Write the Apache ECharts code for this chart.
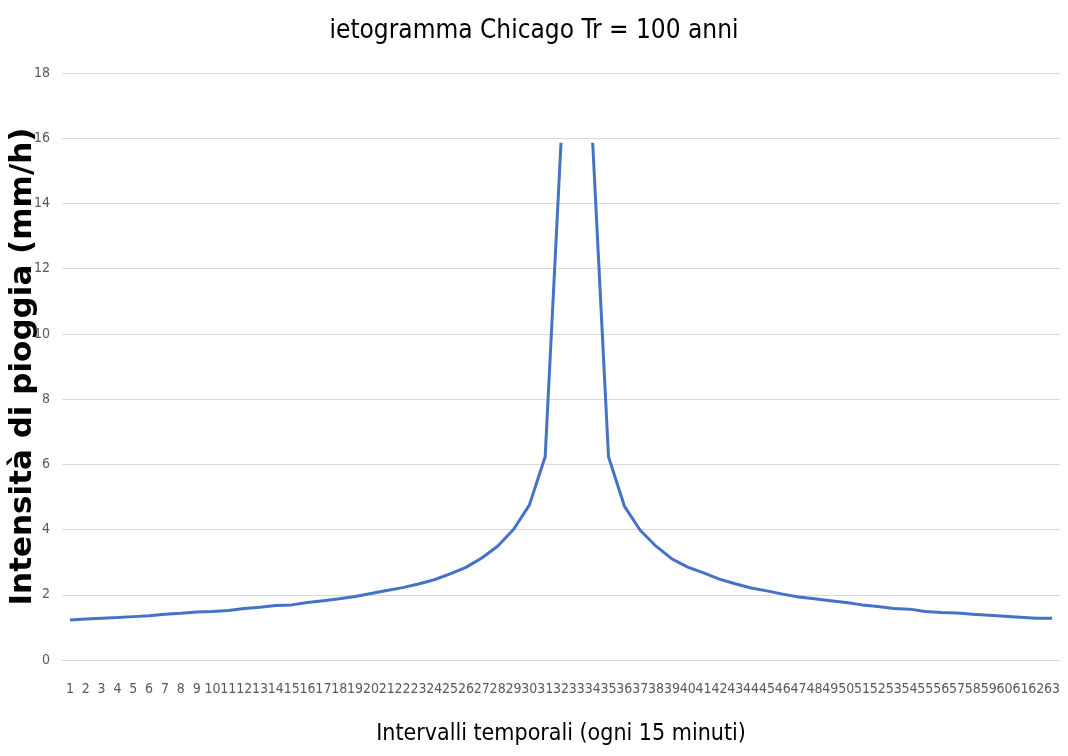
<!DOCTYPE html>
<html>
<head>
<meta charset="utf-8">
<script src="https://cdn.jsdelivr.net/npm/echarts@6/dist/echarts.min.js"></script>
<style>html,body{margin:0;padding:0;background:#fff}#c{width:1068px;height:756px}</style>
</head>
<body>
<div id="c"></div>
<script>
var categories = [];
for (var i = 1; i <= 63; i++) categories.push(String(i));

var intensity = [
  1.23, 1.26, 1.28, 1.30, 1.33, 1.36, 1.40, 1.43, 1.47, 1.49,
  1.52, 1.58, 1.62, 1.67, 1.69, 1.76, 1.82, 1.88, 1.95, 2.04,
  2.13, 2.22, 2.33, 2.46, 2.64, 2.84, 3.13, 3.49, 4.00, 4.75,
  6.23, 15.86, null, 15.86, 6.23, 4.72, 3.98, 3.49, 3.10, 2.85,
  2.67, 2.48, 2.34, 2.21, 2.12, 2.02, 1.93, 1.88, 1.82, 1.76,
  1.69, 1.64, 1.58, 1.56, 1.49, 1.46, 1.44, 1.40, 1.37, 1.34,
  1.31, 1.28, 1.28
];

var titleText = 'ietogramma Chicago Tr = 100 anni';
var yName = 'Intensità di pioggia (mm/h)';
var xName = 'Intervalli temporali (ogni 15 minuti)';

var narrow = '"Liberation Sans Narrow", "DejaVu Sans Condensed", "Open Sans", sans-serif';

var chart = echarts.init(document.getElementById('c'), null, {renderer: 'canvas'});
chart.setOption({
  animation: false,
  backgroundColor: '#ffffff',
  title: {
    text: titleText,
    left: 'center',
    top: 13,
    textStyle: {fontFamily: narrow, fontSize: 26, fontWeight: 'normal', color: '#000', textShadowColor: '#000', textShadowBlur: 0, textShadowOffsetX: 0.6}
  },
  grid: {left: 62, right: 8, top: 73, bottom: 96, containLabel: false, outerBoundsMode: 'none'},
  xAxis: {
    type: 'category',
    data: categories,
    boundaryGap: true,
    name: xName,
    nameLocation: 'middle',
    nameGap: 63,
    nameTextStyle: {fontFamily: narrow, fontSize: 23, fontWeight: 'normal', color: '#000', textShadowColor: '#000', textShadowBlur: 0, textShadowOffsetX: 0.6},
    axisLine: {show: true, lineStyle: {color: '#d9d9d9', width: 1}},
    axisTick: {show: false},
    axisLabel: {interval: 0, fontFamily: narrow, fontSize: 14, color: '#595959', margin: 22}
  },
  yAxis: {
    type: 'value',
    min: 0, max: 18, interval: 2,
    name: yName,
    nameLocation: 'middle',
    nameGap: 24,
    nameMoveOverlap: false,
    nameRotate: 90,
    nameTextStyle: {fontFamily: '"DejaVu Sans", sans-serif', fontSize: 31, fontWeight: 'bold', color: '#000'},
    axisLine: {show: false},
    axisTick: {show: false},
    splitLine: {lineStyle: {color: '#d9d9d9', width: 1}},
    axisLabel: {fontFamily: narrow, fontSize: 14, color: '#595959', margin: 12}
  },
  series: [{
    type: 'line',
    data: intensity,
    connectNulls: false,
    showSymbol: false,
    symbol: 'none',
    lineStyle: {color: '#4472C4', width: 3},
    itemStyle: {color: '#4472C4'}
  }]
});
</script>
</body>
</html>
